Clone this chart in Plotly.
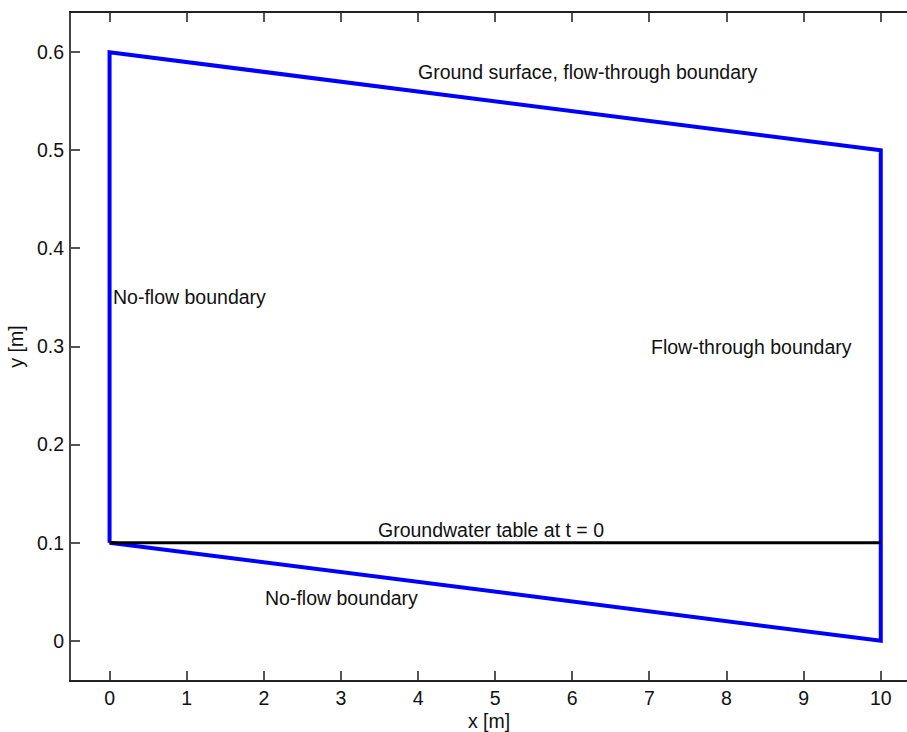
import plotly.graph_objects as go

# Domain outline (blue) and groundwater table (black)
outline_x = [0, 0, 10, 10, 0]
outline_y = [0.1, 0.6, 0.5, 0.0, 0.1]
gw_x = [0, 10]
gw_y = [0.1, 0.1]

# Text labels
label_text = [
    "Ground surface, flow-through boundary",
    "No-flow boundary",
    "Flow-through boundary",
    "Groundwater table at t = 0",
    "No-flow boundary",
]
label_x = [3.97, 0.02, 7.0, 3.45, 1.99]
label_y = [0.58, 0.35, 0.30, 0.113, 0.044]

x_ticks = [0, 1, 2, 3, 4, 5, 6, 7, 8, 9, 10]
y_ticks = [0, 0.1, 0.2, 0.3, 0.4, 0.5, 0.6]
y_ticklabels = ["0", "0.1", "0.2", "0.3", "0.4", "0.5", "0.6"]

FONT = "Liberation Sans, Arial, sans-serif"
FS = 19.5
XRANGE = [-0.5, 10.34]

fig = go.Figure()
fig.add_trace(go.Scatter(x=outline_x, y=outline_y, mode="lines",
                         line=dict(color="#0000ff", width=4), showlegend=False))
fig.add_trace(go.Scatter(x=gw_x, y=gw_y, mode="lines",
                         line=dict(color="#000000", width=3), showlegend=False))

for t, x, y in zip(label_text, label_x, label_y):
    fig.add_annotation(x=x, y=y, text=t, xref="x", yref="y", showarrow=False,
                       xanchor="left", yanchor="middle",
                       font=dict(family=FONT, size=FS, color="#111111"))

fig.update_layout(
    width=907, height=732,
    margin=dict(l=71, r=0, t=13, b=52),
    paper_bgcolor="white", plot_bgcolor="white",
    font=dict(family=FONT, size=FS, color="#111111"),
    showlegend=False,
    xaxis=dict(
        range=XRANGE, tickvals=x_ticks, ticks="inside", ticklen=9, tickwidth=1.5,
        tickcolor="#555555", showline=True, linecolor="#222222", linewidth=2,
        showgrid=False, zeroline=False, ticklabelstandoff=0, automargin=False,
        title=dict(text="x [m]", standoff=8, font=dict(size=FS)),
    ),
    xaxis2=dict(
        range=XRANGE, tickvals=x_ticks, ticks="inside", ticklen=9, tickwidth=1.5,
        tickcolor="#555555", showline=True, linecolor="#222222", linewidth=2,
        showgrid=False, zeroline=False, showticklabels=False, automargin=False,
        overlaying="x", side="top", matches="x",
    ),
    yaxis=dict(
        range=[-0.04, 0.64], tickvals=y_ticks, ticktext=y_ticklabels, ticks="inside",
        ticklen=9, tickwidth=1.5, tickcolor="#555555", showline=True,
        linecolor="#444444", linewidth=2, showgrid=False,
        zeroline=False, ticklabelstandoff=1, automargin=False,
        title=dict(text="y [m]", standoff=8, font=dict(size=FS)),
    ),
)
# invisible trace to activate the top axis
fig.add_trace(go.Scatter(x=[gw_x[0]], y=[gw_y[0]], xaxis="x2", mode="markers",
                         marker=dict(opacity=0), hoverinfo="skip", showlegend=False))

fig.write_html(
    "out.html",
    config={"displayModeBar": False},
    post_script=(
        "document.documentElement.style.margin='0';"
        "document.documentElement.style.overflow='hidden';"
        "document.body.style.margin='0';"
        "document.body.style.overflow='hidden';"
    ),
)
